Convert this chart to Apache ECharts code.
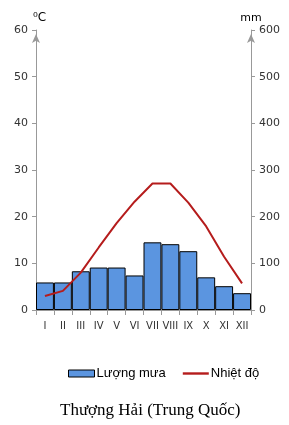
<!DOCTYPE html>
<html><head><meta charset="utf-8">
<script src="https://cdn.jsdelivr.net/npm/echarts@6/dist/echarts.min.js"></script>
<style>html,body{margin:0;padding:0;background:#fff}#c{width:289px;height:425px}</style>
</head><body><div id="c"></div>
<script>
var categories = ['I','II','III','IV','V','VI','VII','VIII','IX','X','XI','XII'];
var rainfall = [59, 59, 83, 91, 91, 74, 145, 141, 126, 70, 51, 36];
var temperature = [3.0, 4.1, 8.0, 13.4, 18.6, 23.2, 27.1, 27.1, 23.0, 17.9, 11.4, 5.7];
var tempTicks = [0, 10, 20, 30, 40, 50, 60];
var rainTicks = [0, 100, 200, 300, 400, 500, 600];

var chart = echarts.init(document.getElementById('c'), null, {renderer:'canvas'});
var axisFont = {fontFamily:'DejaVu Sans', fontSize:11, color:'#333'};
chart.setOption({
  animation:false,
  grid:{left:36, right:38, top:30, bottom:115},
  title:{text:'Thượng Hải (Trung Quốc)', left:55, top:397,
    textStyle:{fontFamily:'Liberation Serif', fontSize:17, fontWeight:'normal', color:'#000'}},
  legend:{top:362, left:63, itemGap:17, itemWidth:26, itemHeight:7,
    textStyle:{fontFamily:'Liberation Sans', fontSize:13, color:'#000', padding:[0,0,0,-3]},
    data:[{name:'Lượng mưa', icon:'rect', itemStyle:{borderWidth:1, borderColor:'#000', color:'#5b95e0'}},
          {name:'Nhiệt độ', icon:'path://M0,0 L26,0 L26,2.4 L0,2.4 Z', itemStyle:{color:'#b51c1c'}}]},
  xAxis:{type:'category', data:categories, boundaryGap:true,
    axisLine:{lineStyle:{color:'#999'}},
    axisTick:{show:true, interval:0, length:5, lineStyle:{color:'#999'}},
    axisLabel:{margin:11, interval:0, fontSize:10, fontFamily:'DejaVu Sans', color:'#333'}},
  yAxis:[
    {type:'value', min:tempTicks[0], max:tempTicks[tempTicks.length-1], interval:10, position:'left',
     name:'⁰C', nameGap:6, nameTextStyle:{fontFamily:'DejaVu Sans', fontSize:12, color:'#000', align:'left', padding:[0,0,0,-3]},
     axisLine:{show:true, symbol:['none','arrow'], symbolSize:[6,9], symbolOffset:[0,-4], lineStyle:{color:'#999'}},
     axisTick:{show:true, length:4, lineStyle:{color:'#999'}},
     axisLabel:Object.assign({margin:8}, axisFont), splitLine:{show:false}},
    {type:'value', min:rainTicks[0], max:rainTicks[rainTicks.length-1], interval:100, position:'right',
     name:'mm', nameGap:6, nameTextStyle:{fontFamily:'DejaVu Sans', fontSize:11, color:'#000', align:'center', padding:[0,0,0,0]},
     axisLine:{show:true, symbol:['none','arrow'], symbolSize:[6,9], symbolOffset:[0,-4], lineStyle:{color:'#999'}},
     axisTick:{show:true, length:4, lineStyle:{color:'#999'}},
     axisLabel:Object.assign({margin:8}, axisFont), splitLine:{show:false}}
  ],
  series:[
    {name:'Lượng mưa', type:'bar', yAxisIndex:1, data:rainfall, barWidth:'100%', barCategoryGap:0,
     itemStyle:{color:'#5b95e0', borderColor:'#000', borderWidth:1}},
    {name:'Nhiệt độ', type:'line', yAxisIndex:0, data:temperature, symbol:'none',
     lineStyle:{color:'#b51c1c', width:2}, itemStyle:{color:'#b51c1c'}}
  ]
});
</script></body></html>
